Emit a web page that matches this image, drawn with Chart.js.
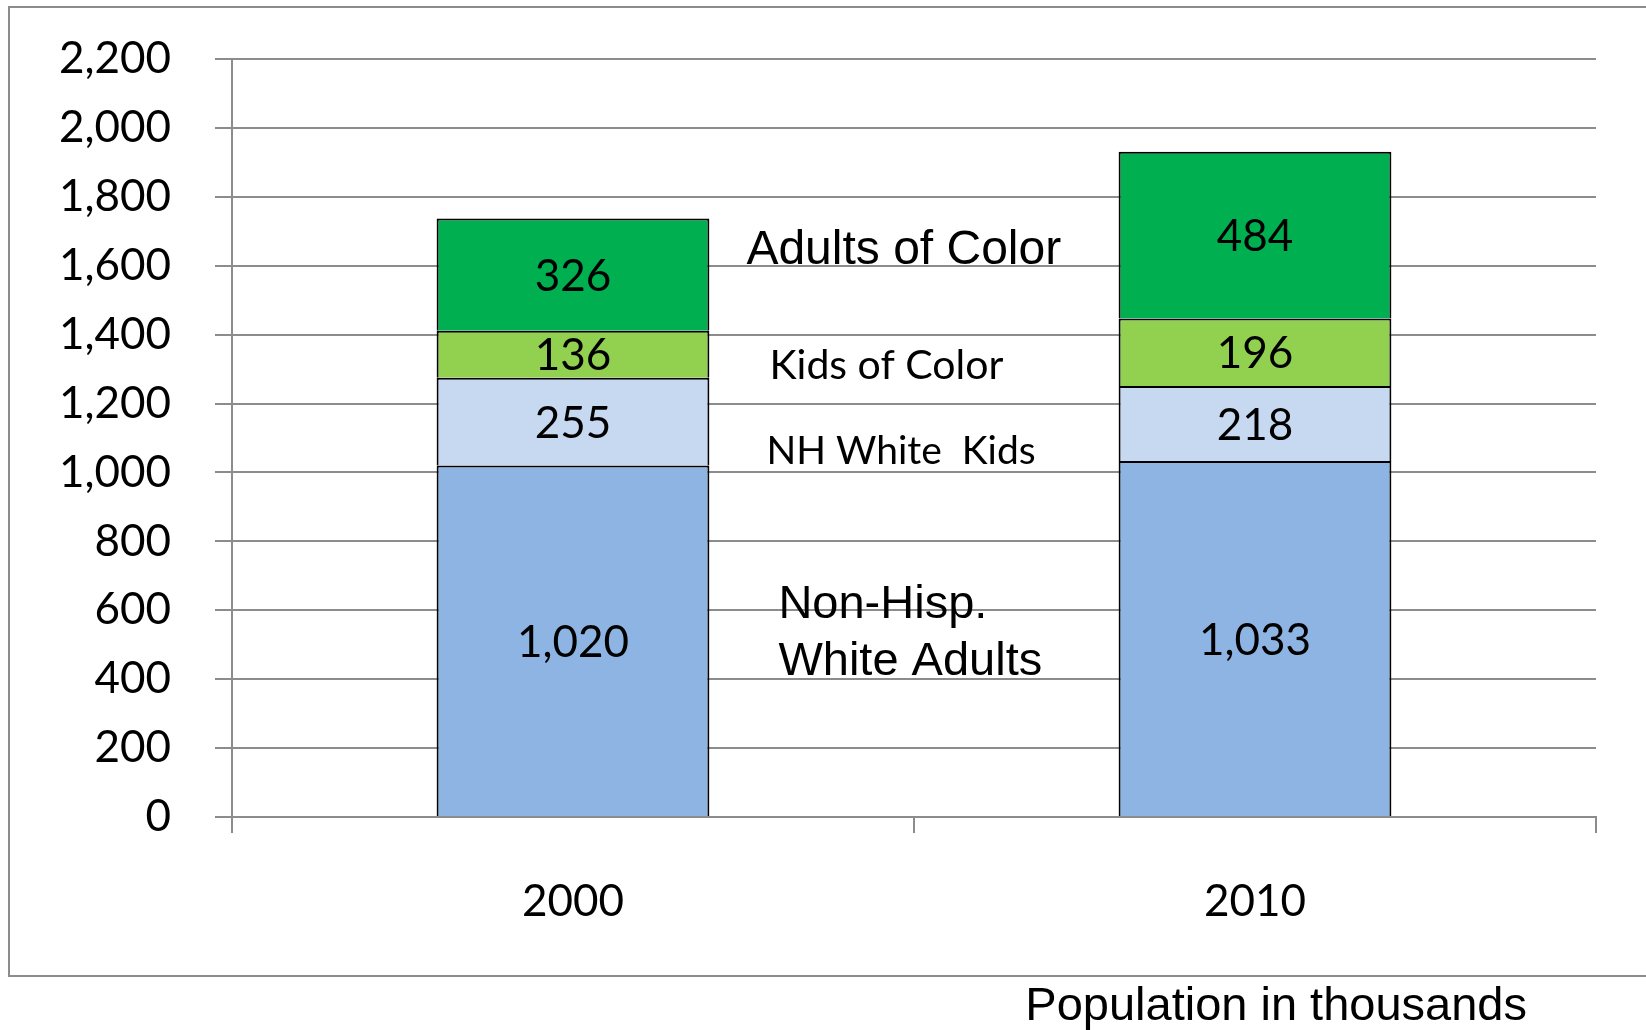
<!DOCTYPE html>
<html>
<head>
<meta charset="utf-8">
<title>Population in thousands</title>
<script src="https://cdn.jsdelivr.net/npm/chart.js@4/dist/chart.umd.min.js"></script>
<style>
  html, body { margin: 0; padding: 0; background: #fff; }
  canvas { display: block; }
</style>
</head>
<body>
<canvas id="myChart" width="1646" height="1030"></canvas>
<script>
// categories
var years = ['2000', '2010'];

// series, population in thousands (bottom of stack first)
var whiteAdults = [1020, 1033];
var whiteKids = [255, 218];
var kidsOfColor = [136, 196];
var adultsOfColor = [326, 484];

// y axis range
var yMin = 0;
var yMax = 2200;
var yStep = 200;

// notes written beside the 2000 bar, and the value they sit at
var noteTexts = ['Adults of Color', 'Kids of Color', 'NH White  Kids', 'Non-Hisp.', 'White Adults'];
var noteValues = [1643, 1311, 1061, 615, 451];

var gridGray = '#8c8c8c';

// looks of the notes (font and shift from the bar's right edge)
var noteStyle = [
  { font: '48px "Liberation Sans", Arial, sans-serif', dx: 37 },
  { font: '41px Lato, sans-serif', dx: 60 },
  { font: '39px Lato, sans-serif', dx: 57 },
  { font: '47px "Liberation Sans", Arial, sans-serif', dx: 69 },
  { font: '47px "Liberation Sans", Arial, sans-serif', dx: 69 }
];

var textPlugin = {
  id: 'textPlugin',
  beforeDraw: function(chart) {
    var ctx = chart.ctx;
    ctx.save();
    ctx.fillStyle = '#fff';
    ctx.fillRect(0, 0, chart.width, chart.height);
    // frame round the chart
    ctx.strokeStyle = gridGray;
    ctx.lineWidth = 2;
    ctx.strokeRect(9, 7, 1640, 969);
    ctx.restore();
  },
  afterDatasetsDraw: function(chart) {
    var ctx = chart.ctx;
    ctx.save();
    ctx.fillStyle = '#000';
    ctx.textAlign = 'center';
    ctx.textBaseline = 'middle';
    ctx.font = '44px Lato, sans-serif';
    chart.data.datasets.forEach(function(ds, i) {
      chart.getDatasetMeta(i).data.forEach(function(bar, j) {
        ctx.fillText(ds.data[j].toLocaleString('en-US'), bar.x, (bar.y + bar.base) / 2 + 2);
      });
    });

    // notes next to the first bar
    var firstBar = chart.getDatasetMeta(0).data[0];
    var right = firstBar.x + firstBar.width / 2;
    var yScale = chart.scales.y;
    ctx.textAlign = 'left';
    noteTexts.forEach(function(t, k) {
      ctx.font = noteStyle[k].font;
      ctx.fillText(t, right + noteStyle[k].dx, yScale.getPixelForValue(noteValues[k]));
    });

    // caption under the frame
    ctx.font = '47px "Liberation Sans", Arial, sans-serif';
    ctx.textAlign = 'right';
    ctx.textBaseline = 'alphabetic';
    ctx.fillText('Population in thousands', 1527, 1020);
    ctx.restore();
  }
};

function makeSet(label, values, color) {
  return {
    label: label,
    data: values,
    backgroundColor: color,
    borderColor: '#000',
    borderWidth: 2,
    barPercentage: 0.4,
    categoryPercentage: 1
  };
}

var ctx = document.getElementById('myChart').getContext('2d');
var myChart = new Chart(ctx, {
  type: 'bar',
  data: {
    labels: years,
    datasets: [
      makeSet('Non-Hisp. White Adults', whiteAdults, '#8eb4e3'),
      makeSet('NH White Kids', whiteKids, '#c6d9f1'),
      makeSet('Kids of Color', kidsOfColor, '#92d050'),
      makeSet('Adults of Color', adultsOfColor, '#00b050')
    ]
  },
  options: {
    responsive: false,
    animation: false,
    layout: { padding: { left: 0, right: 50, top: 59, bottom: 0 } },
    plugins: {
      legend: { display: false },
      tooltip: { enabled: false }
    },
    scales: {
      x: {
        stacked: true,
        offset: true,
        grid: {
          offset: true,
          drawOnChartArea: false,
          drawTicks: true,
          tickLength: 16,
          color: gridGray,
          lineWidth: 2
        },
        border: { display: true, color: gridGray, width: 2 },
        ticks: {
          color: '#000',
          font: { family: 'Lato', size: 44 },
          padding: 42,
          maxRotation: 0
        },
        afterFit: function(scale) { scale.height = 213; }
      },
      y: {
        stacked: true,
        min: yMin,
        max: yMax,
        grid: {
          color: gridGray,
          lineWidth: 2,
          drawTicks: true,
          tickLength: 17
        },
        border: { display: true, color: gridGray, width: 2 },
        ticks: {
          stepSize: yStep,
          color: '#000',
          font: { family: 'Lato', size: 44 },
          padding: 44,
          callback: function(v) { return v.toLocaleString('en-US'); }
        },
        afterFit: function(scale) {
          scale.width = 232;
          scale.paddingTop = 0;
          scale.paddingBottom = 0;
        }
      }
    }
  },
  plugins: [textPlugin]
});
</script>
</body>
</html>
